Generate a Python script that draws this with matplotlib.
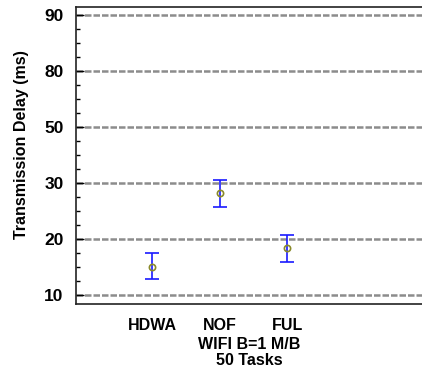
import numpy as np
import matplotlib
matplotlib.use('Agg')
import matplotlib.pyplot as plt
from matplotlib.ticker import FixedLocator

# data
methods = ['HDWA', 'NOF', 'FUL']
delay_mean = [15.1, 28.3, 18.4]
delay_low = [12.9, 25.8, 15.9]
delay_high = [17.6, 31.0, 20.7]

tick_values = [10, 20, 30, 50, 80, 90]
minor_values = [12.5, 15, 17.5, 22.5, 25, 27.5, 35, 40, 45,
                57.5, 65, 72.5, 82.5, 85, 87.5]

########################################################################

tv = np.array(tick_values, dtype=float)
tp = np.arange(len(tv), dtype=float)

def forward(v):
    v = np.asarray(v, dtype=float)
    out = np.interp(v, tv, tp)
    lo = v < tv[0]
    hi = v > tv[-1]
    out = np.where(lo, (v - tv[0]) / (tv[1] - tv[0]), out)
    out = np.where(hi, tp[-1] + (v - tv[-1]) / (tv[-1] - tv[-2]), out)
    return out

def inverse(p):
    p = np.asarray(p, dtype=float)
    out = np.interp(p, tp, tv)
    lo = p < tp[0]
    hi = p > tp[-1]
    out = np.where(lo, tv[0] + p * (tv[1] - tv[0]), out)
    out = np.where(hi, tv[-1] + (p - tp[-1]) * (tv[-1] - tv[-2]), out)
    return out

plt.rcParams['font.family'] = ['Liberation Sans', 'DejaVu Sans']
plt.rcParams['font.weight'] = 'bold'

fig = plt.figure(figsize=(4.22, 3.70), dpi=100)
ax = fig.add_axes([0.180, 0.178, 0.82, 0.802])
ax.set_yscale('function', functions=(forward, inverse))

x = np.arange(len(methods))
mean = np.array(delay_mean)
yerr = [mean - np.array(delay_low), np.array(delay_high) - mean]

for v in tick_values:
    ax.axhline(v, color='#8c8c8c', lw=1.8, ls=(0, (2.6, 0.8)), zorder=1)

ax.errorbar(x, mean, yerr=yerr, fmt='o', color='#1a1aff', ecolor='#1a1aff',
            elinewidth=1.2, capsize=5, capthick=1.2,
            mfc='none', mec='#8a8a2a', ms=4.5, mew=1.2, zorder=3)

ax.set_xlim(-1.13, 4.0)
ax.set_ylim(8.4, 91.4)
ax.yaxis.set_major_locator(FixedLocator(tick_values))
ax.yaxis.set_minor_locator(FixedLocator(minor_values))
ax.set_yticklabels([str(v) for v in tick_values])
ax.set_xticks(x)
ax.set_xticklabels(methods)

ax.tick_params(axis='y', which='major', direction='in', length=6, width=1,
               pad=9, labelsize=12.5)
ax.tick_params(axis='y', which='minor', direction='in', length=3, width=1)
ax.tick_params(axis='x', length=0, pad=10, labelsize=11.5)

ax.spines['right'].set_visible(False)
for s in ['left', 'bottom', 'top']:
    ax.spines[s].set_linewidth(1.2)
    ax.spines[s].set_color('#222222')

ax.set_ylabel('Transmission Delay (ms)', fontsize=11.5, fontweight='bold')
ax.yaxis.set_label_coords(-0.135, 0.537)
ax.set_xlabel('WIFI B=1 M/B\n50 Tasks', fontsize=11.5, fontweight='bold',
              labelpad=3, linespacing=1.1)

plt.savefig('out.png', dpi=100)
plt.close()
